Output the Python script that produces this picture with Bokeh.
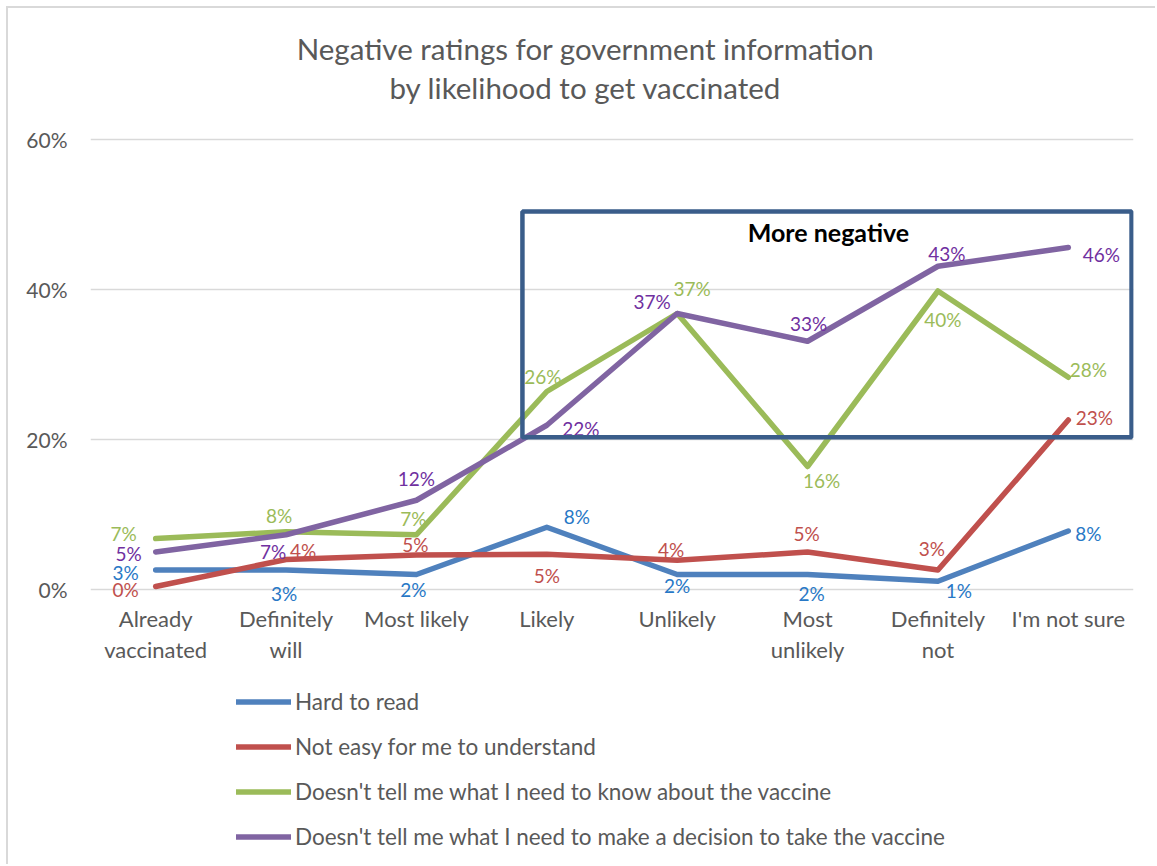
from bokeh.plotting import figure
from bokeh.models import (ColumnDataSource, Legend, LegendItem, Label, FixedTicker,
                          BoxAnnotation, Range1d)
from bokeh.embed import file_html
from bokeh.resources import INLINE
from bokeh.core.properties import value

# ---------------- data ----------------
categories = ["Already\nvaccinated", "Definitely\nwill", "Most likely", "Likely",
              "Unlikely", "Most\nunlikely", "Definitely\nnot", "I'm not sure"]
series_names = ["Hard to read",
                "Not easy for me to understand",
                "Doesn't tell me what I need to know about the vaccine",
                "Doesn't tell me what I need to make a decision to take the vaccine"]
hard_to_read = [2.6, 2.6, 2.0, 8.3, 2.0, 2.0, 1.1, 7.8]
not_easy = [0.4, 4.0, 4.6, 4.7, 3.9, 5.0, 2.6, 22.6]
not_know = [6.8, 7.7, 7.3, 26.4, 36.8, 16.4, 39.8, 28.3]
not_decide = [5.0, 7.3, 11.9, 21.9, 36.8, 33.1, 43.1, 45.6]
y_ticks = [0, 20, 40, 60]
title_lines = ["Negative ratings for government information", "by likelihood to get vaccinated"]
box_note = "More negative"

# ---------------- styles ----------------
FONT = "Lato"
GREY = "#595959"
line_colors = ["#4F81BD", "#C0504D", "#9BBB59", "#8064A2"]
label_colors = ["#2878C6", "#C0504D", "#9BBB59", "#7030A0"]
# label offsets (screen px) relative to each point
label_dx = [
    [-30, -2, -3, 30, 0, 4, 21, 20],
    [-30, 17, -1, 0, -6, -1, -6, 26],
    [-32, -7, -3, -4, 15, 14, 5, 20],
    [-27, -13, 0, 34, -25, 1, 9, 33],
]
label_dy = [
    [2, 23, 15, -11, 11, 19, 9, 2],
    [3, -9, -11, 21, -11, -19, -22, -3],
    [-5, -16, -16, -15, -25, 14, 28, -8],
    [1, 17, -22, 3, -12, -18, -13, 7],
]

xs = [i + 0.5 for i in range(len(categories))]

# canvas 1149x858 placed at (8, 8) of the page; plot frame fills the height so that
# labels, legend and titles outside the value area are not clipped
PX_PER_PCT = 7.5
TOP_PAD, BOTTOM_PAD = 131, 858 - 131 - 60 * PX_PER_PCT
p = figure(width=1149, height=858, output_backend="svg", toolbar_location=None,
           title=None,
           x_range=Range1d(0, len(categories)),
           y_range=Range1d(-BOTTOM_PAD / PX_PER_PCT, 60 + TOP_PAD / PX_PER_PCT),
           min_border_left=82, min_border_right=24, min_border_top=0,
           min_border_bottom=0, outline_line_color=None,
           background_fill_color="white", border_fill_color="white")
p.styles = {"margin-left": "6px", "margin-top": "6px",
            "border-left": "2px solid #D9D9D9", "border-top": "2px solid #D9D9D9"}

# axes
p.xaxis.visible = False
p.yaxis.ticker = FixedTicker(ticks=y_ticks)
p.yaxis.major_label_overrides = {t: f"{t}%" for t in y_ticks}
ax = p.yaxis[0]
ax.axis_line_color = None
ax.major_tick_line_color = None
ax.minor_tick_line_color = None
ax.major_label_text_font = FONT
ax.major_label_text_font_size = "21px"
ax.major_label_text_color = GREY
ax.major_label_standoff = 17
p.xgrid.grid_line_color = None
p.ygrid.grid_line_color = "#D9D9D9"
p.ygrid.grid_line_width = 1.5
p.ygrid.ticker = FixedTicker(ticks=y_ticks)

# category labels under the value area
cat_src = ColumnDataSource(dict(x=xs, y=[0] * len(xs), t=categories))
p.text("x", "y", text="t", source=cat_src, y_offset=15, text_font=value(FONT),
       text_font_size="22px", text_color=GREY, text_align="center",
       text_baseline="top", text_line_height=1.15)

# highlight box
p.add_layout(BoxAnnotation(left=3.313, right=7.985, bottom=20.3, top=50.4,
                           fill_alpha=0, line_color="#3A5D8A", line_alpha=1,
                           line_width=4.5))
p.add_layout(Label(x=5.66, y=47.7, text=box_note, text_font=FONT, text_font_size="25px",
                   text_font_style="bold", text_color="black", text_align="center",
                   text_baseline="middle"))

# series
all_series = [hard_to_read, not_easy, not_know, not_decide]
items = []
for k, (name, vals) in enumerate(zip(series_names, all_series)):
    src = ColumnDataSource(dict(x=xs, y=vals))
    r = p.line("x", "y", source=src, line_color=line_colors[k], line_width=5.5,
               line_join="round", line_cap="round")
    items.append(LegendItem(label=name, renderers=[r]))
for k, (name, vals) in enumerate(zip(series_names, all_series)):
    src = ColumnDataSource(dict(x=xs, y=vals, lab=[f"{v:.0f}%" for v in vals],
                                dx=label_dx[k], dy=label_dy[k]))
    p.text("x", "y", text="lab", source=src, x_offset="dx", y_offset="dy",
           text_font=value(FONT), text_font_size="19px", text_color=label_colors[k],
           text_align="center", text_baseline="middle")

legend = Legend(items=items, location=(146, 16), orientation="vertical",
                glyph_width=55, glyph_height=27, label_standoff=4, spacing=18,
                padding=0, margin=0, border_line_color=None, background_fill_alpha=0,
                label_text_font=FONT, label_text_font_size="22.5px",
                label_text_color=GREY, label_height=27)
p.add_layout(legend, "center")

# two-line title
for i, t in enumerate(title_lines):
    p.add_layout(Label(x=3.797, y=72.2 - 5.33 * i, text=t, text_font=FONT,
                       text_font_size="29.5px", text_color=GREY, text_align="center",
                       text_baseline="middle"))

open("out.html", "w").write(file_html(p, INLINE))
